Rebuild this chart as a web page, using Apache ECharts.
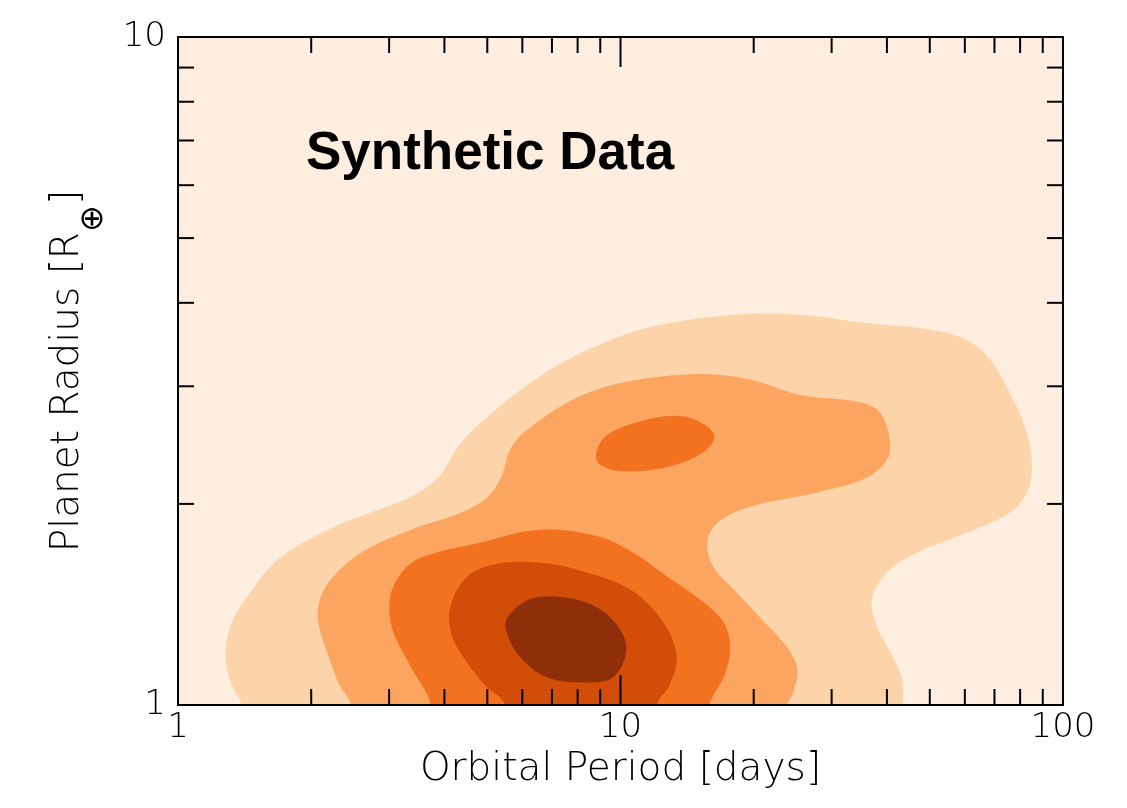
<!DOCTYPE html>
<html>
<head>
<meta charset="utf-8">
<script src="https://cdn.jsdelivr.net/npm/echarts@6/dist/echarts.min.js"></script>
<style>
html,body{margin:0;padding:0;background:#fff;}
#chart{width:1127px;height:808px;}
</style>
</head>
<body>
<div id="chart"></div>
<script>
// Axis tick values
const xMajor = [1, 10, 100];
const xMinor = [2, 3, 4, 5, 6, 7, 8, 9, 20, 30, 40, 50, 60, 70, 80, 90];
const yMinor = [2, 3, 4, 5, 6, 7, 8, 9];

// Contour outlines: [orbital period (days), planet radius (R_earth)]
const level1 = [[1.39,1.0],[1.31,1.09],[1.28,1.21],[1.33,1.34],[1.42,1.44],[1.68,1.65],[2.18,1.83],[2.83,1.96],[3.36,2.05],[3.87,2.19],[4.36,2.47],[5.2,2.76],[6.75,3.14],[8.76,3.44],[11.7,3.68],[18.0,3.84],[25.5,3.84],[36.1,3.73],[50.8,3.64],[60.7,3.52],[68.4,3.29],[75.9,2.93],[82.9,2.55],[85.1,2.27],[82.9,2.08],[75.9,1.94],[60.7,1.81],[46.8,1.69],[40.0,1.58],[37.0,1.44],[38.0,1.31],[41.3,1.18],[43.3,1.09],[43.5,1.0]];
const level2 = [[2.46,1.0],[2.32,1.07],[2.2,1.17],[2.09,1.3],[2.07,1.39],[2.18,1.52],[2.59,1.69],[3.36,1.83],[4.36,1.94],[5.02,2.05],[5.37,2.19],[5.66,2.43],[6.28,2.61],[8.02,2.89],[10.4,3.05],[15.1,3.13],[19.6,3.07],[25.5,2.91],[34.8,2.84],[38.6,2.74],[40.6,2.49],[40.0,2.33],[36.1,2.19],[27.8,2.08],[19.6,1.98],[16.5,1.87],[15.7,1.75],[16.2,1.61],[18.0,1.49],[20.7,1.35],[23.8,1.22],[25.1,1.13],[24.5,1.04],[23.8,1.0]];
const level3a = [[8.8,2.37],[9.23,2.52],[10.7,2.64],[13.4,2.71],[15.5,2.63],[16.3,2.51],[15.1,2.37],[12.3,2.26],[9.97,2.24],[8.99,2.29]];
const level3b = [[3.73,1.0],[3.36,1.14],[3.05,1.3],[3.01,1.44],[3.18,1.57],[3.52,1.66],[4.81,1.75],[6.58,1.83],[8.85,1.79],[10.7,1.69],[12.7,1.56],[15.1,1.44],[17.1,1.33],[17.7,1.21],[17.1,1.1],[15.9,1.0]];
const level4 = [[5.48,1.0],[4.94,1.07],[4.45,1.17],[4.16,1.27],[4.12,1.4],[4.52,1.56],[5.34,1.63],[6.75,1.63],[8.1,1.59],[10.5,1.49],[12.5,1.33],[13.4,1.18],[12.9,1.07],[12.1,1.0]];
const level5 = [[5.54,1.35],[6.25,1.44],[7.41,1.45],[8.85,1.4],[9.97,1.3],[10.3,1.2],[9.62,1.1],[8.4,1.08],[6.82,1.1],[5.93,1.18],[5.54,1.28]];

const contours = [
  {name: 'L1', pts: level1, color: '#FDD4A9', open: true},
  {name: 'L2', pts: level2, color: '#FCA561', open: true},
  {name: 'L3a', pts: level3a, color: '#F2721F', open: false},
  {name: 'L3b', pts: level3b, color: '#F2721F', open: true},
  {name: 'L4', pts: level4, color: '#D24E08', open: true},
  {name: 'L5', pts: level5, color: '#8E2F09', open: false}
];

const FONT = 'DejaVu Sans';
const chart = echarts.init(document.getElementById('chart'), null, {renderer: 'canvas'});

function contourSeries(c) {
  const pts = c.open
    ? c.pts.concat([[c.pts[c.pts.length - 1][0], 0.85], [c.pts[0][0], 0.85]])
    : c.pts;
  return {
    type: 'custom',
    name: c.name,
    clip: true,
    z: 2,
    silent: true,
    data: pts,
    renderItem: function (params, api) {
      if (params.dataIndex !== 0) return null;
      const p = pts.map(function (d) { return api.coord(d); });
      return {
        type: 'polygon',
        shape: {points: p, smooth: 0.35},
        style: {fill: c.color, stroke: null}
      };
    }
  };
}

const tickLenMinor = 16, tickLenMajor = 30;
const tickSeriesX = {
  type: 'custom', z: 20, silent: true, clip: false,
  data: xMinor.map(function (v) { return [v, 1, 0]; }).concat([[10, 1, 1]]),
  renderItem: function (params, api) {
    const v = api.value(0), major = api.value(2) === 1;
    const b = api.coord([v, 1]), t = api.coord([v, 10]);
    const L = major ? tickLenMajor : tickLenMinor;
    const st = {stroke: '#000', lineWidth: 2};
    return {type: 'group', children: [
      {type: 'line', shape: {x1: b[0], y1: b[1], x2: b[0], y2: b[1] - L}, style: st},
      {type: 'line', shape: {x1: t[0], y1: t[1], x2: t[0], y2: t[1] + L}, style: st}
    ]};
  }
};
const tickSeriesY = {
  type: 'custom', z: 20, silent: true, clip: false,
  data: yMinor.map(function (v) { return [1, v]; }),
  renderItem: function (params, api) {
    const v = api.value(1);
    const l = api.coord([1, v]), r = api.coord([100, v]);
    const st = {stroke: '#000', lineWidth: 2};
    return {type: 'group', children: [
      {type: 'line', shape: {x1: l[0], y1: l[1], x2: l[0] + tickLenMinor, y2: l[1]}, style: st},
      {type: 'line', shape: {x1: r[0], y1: r[1], x2: r[0] - tickLenMinor, y2: r[1]}, style: st}
    ]};
  }
};

const axisLabelStyle = {color: '#000', fontFamily: FONT, fontWeight: 200, fontSize: 34};

const option = {
  backgroundColor: '#ffffff',
  animation: false,
  grid: {left: 178, top: 37, width: 885, height: 668, show: true, backgroundColor: '#FEEEDF', borderWidth: 0},
  title: {
    text: 'Synthetic Data',
    left: 301, top: 123,
    textStyle: {fontFamily: 'Liberation Sans', fontWeight: 'bold', fontSize: 53, color: '#000'}
  },
  xAxis: [{
    type: 'log', logBase: 10, min: 1, max: 100, position: 'bottom', z: 10,
    name: 'Orbital Period [days]', nameLocation: 'middle', nameGap: 44,
    nameTextStyle: {color: '#000', fontFamily: FONT, fontWeight: 200, fontSize: 39, verticalAlign: 'top'},
    axisLine: {show: true, lineStyle: {color: '#000', width: 2}},
    axisTick: {show: false}, splitLine: {show: false},
    axisLabel: Object.assign({margin: 6, showMinLabel: true, showMaxLabel: true}, axisLabelStyle)
  }, {
    type: 'log', logBase: 10, min: 1, max: 100, position: 'top', z: 10,
    axisLine: {show: true, lineStyle: {color: '#000', width: 2}},
    axisTick: {show: false}, splitLine: {show: false}, axisLabel: {show: false}
  }],
  yAxis: [{
    type: 'log', logBase: 10, min: 1, max: 10, position: 'left', z: 10,
    name: '{n|Planet Radius [R}{sub|⊕}{n|]}', nameLocation: 'middle', nameGap: 68, nameRotate: 90,
    nameTextStyle: {color: '#000', fontFamily: FONT, fontWeight: 200, fontSize: 39,
      rich: {
        n: {fontFamily: FONT, fontWeight: 200, fontSize: 39, color: '#000', verticalAlign: 'top', lineHeight: 40},
        sub: {fontFamily: FONT, fontWeight: 200, fontSize: 32, color: '#000', verticalAlign: 'bottom', lineHeight: 62}
      }},
    axisLine: {show: true, lineStyle: {color: '#000', width: 2}},
    axisTick: {show: false}, splitLine: {show: false},
    axisLabel: Object.assign({margin: 12, showMinLabel: true, showMaxLabel: true}, axisLabelStyle)
  }, {
    type: 'log', logBase: 10, min: 1, max: 10, position: 'right', z: 10,
    axisLine: {show: true, lineStyle: {color: '#000', width: 2}},
    axisTick: {show: false}, splitLine: {show: false}, axisLabel: {show: false}
  }],
  series: contours.map(contourSeries).concat([tickSeriesX, tickSeriesY])
};
chart.setOption(option);
</script>
</body>
</html>
